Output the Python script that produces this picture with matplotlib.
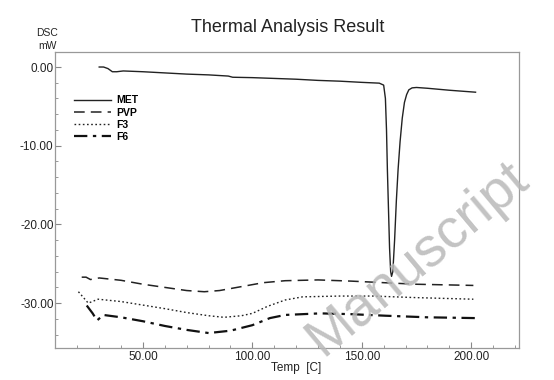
import numpy as np
import matplotlib
matplotlib.use('Agg')
import matplotlib.pyplot as plt
from matplotlib.ticker import MultipleLocator, FormatStrFormatter

plt.rcParams['font.family'] = ['Liberation Sans', 'DejaVu Sans']

# MET (solid)
met_t = [30, 32, 34, 36, 38, 41, 50, 60, 70, 80, 89, 91, 100, 110, 120, 130, 140, 150, 158,
         160, 160.8, 161.3, 161.7, 162.2, 162.7, 163.2, 163.6, 164.2, 165, 165.8, 166.6,
         167.5, 168.5, 169.5, 170.5, 171.5, 173, 175, 180, 190, 202]
met_v = [0.0, 0.0, -0.2, -0.6, -0.6, -0.5, -0.6, -0.75, -0.9, -1.0, -1.15, -1.3, -1.35, -1.45,
         -1.55, -1.7, -1.8, -1.95, -2.05, -2.3, -4, -8, -13, -18, -23, -26, -26.6, -26, -22,
         -17, -13, -9.5, -6.5, -4.5, -3.5, -2.9, -2.65, -2.6, -2.7, -2.95, -3.2]

# PVP (dashed)
pvp_t = [22, 24, 26, 30, 40, 50, 60, 70, 78, 85, 95, 105, 115, 130, 145, 160, 175, 201]
pvp_v = [-26.7, -26.7, -27.0, -26.8, -27.1, -27.6, -28.0, -28.4, -28.55, -28.4, -27.9, -27.4,
         -27.15, -27.05, -27.2, -27.4, -27.6, -27.75]

# F3 (dotted)
f3_t = [20.5, 25, 29.5, 40, 50, 60, 70, 80, 87, 95, 100, 107, 115, 123, 140, 155, 175, 201]
f3_v = [-28.55, -30.0, -29.5, -29.8, -30.25, -30.7, -31.2, -31.6, -31.8, -31.6, -31.3, -30.4,
        -29.6, -29.2, -29.1, -29.1, -29.3, -29.5]

# F6 (dash-dot)
f6_t = [24.3, 27, 29, 31.9, 40, 50, 60, 70, 80, 90, 100, 108, 115, 131, 145, 161, 180, 202]
f6_v = [-30.3, -31.3, -32.2, -31.5, -31.8, -32.3, -32.9, -33.4, -33.8, -33.5, -32.8, -31.9,
        -31.5, -31.3, -31.4, -31.6, -31.8, -31.9]

fig = plt.figure(figsize=(5.54, 3.80), dpi=100)
ax = fig.add_axes([0.0993, 0.0842, 0.8377, 0.7788])

ax.plot(met_t, met_v, color='#222222', lw=1.0, label='MET')
ax.plot(pvp_t, pvp_v, color='#222222', lw=1.1, dashes=(7, 4), label='PVP')
ax.plot(f3_t, f3_v, color='#222222', lw=1.0, dashes=(1.2, 1.8), label='F3')
ax.plot(f6_t, f6_v, color='#111111', lw=1.6, dashes=(6, 2.5, 1.5, 2.5), label='F6')

ax.set_xlim(9.8, 221.9)
ax.set_ylim(-35.7, 1.9)
ax.xaxis.set_major_locator(MultipleLocator(50))
ax.xaxis.set_minor_locator(MultipleLocator(10))
ax.yaxis.set_major_locator(MultipleLocator(10))
ax.yaxis.set_minor_locator(MultipleLocator(2))
ax.xaxis.set_major_formatter(FormatStrFormatter('%.2f'))
ax.yaxis.set_major_formatter(FormatStrFormatter('%.2f'))
ax.tick_params(which='both', direction='in', colors='#888888', labelcolor='#222222',
               labelsize=8.5, pad=2)
ax.tick_params(which='major', length=4)
ax.tick_params(which='minor', length=2)
ax.tick_params(axis='y', pad=1)
for s in ax.spines.values():
    s.set_color('#999999')
    s.set_linewidth(0.9)

leg = ax.legend(loc='upper left', bbox_to_anchor=(0.02, 0.885), frameon=False,
                handlelength=3.6, handletextpad=0.5, labelspacing=0.2,
                prop={'weight': 'bold', 'size': 7.5})

fig.text(0.52, 0.928, 'Thermal Analysis Result', ha='center', va='center', fontsize=13,
         color='#222222')
fig.text(0.085, 0.912, 'DSC', ha='center', va='center', fontsize=7.5, color='#222222')
fig.text(0.085, 0.880, 'mW', ha='center', va='center', fontsize=7.5, color='#222222')
fig.text(0.535, 0.032, 'Temp  [C]', ha='center', va='center', fontsize=8.5, color='#222222')

# watermark
fig.text(0.755, 0.32, 'Manuscript', ha='center', va='center', fontsize=40,
         rotation=40, color='#b8b8b8', alpha=0.85, zorder=10)

fig.savefig('out.png', dpi=100)
